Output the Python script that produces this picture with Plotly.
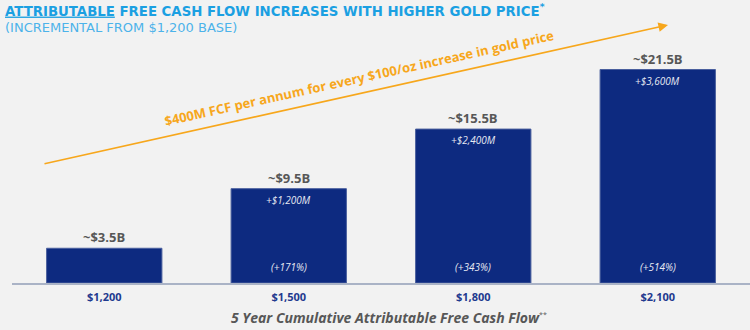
import plotly.graph_objects as go

# ---- data ----
gold_prices = ["$1,200", "$1,500", "$1,800", "$2,100"]
fcf_billions = [3.5, 9.5, 15.5, 21.5]
value_labels = ["~$3.5B", "~$9.5B", "~$15.5B", "~$21.5B"]
incremental_labels = ["", "+$1,200M", "+$2,400M", "+$3,600M"]
pct_labels = ["", "(+171%)", "(+343%)", "(+514%)"]

title_text = "<u>ATTRIBUTABLE</u> FREE CASH FLOW INCREASES WITH HIGHER GOLD PRICE<sup>*</sup>"
subtitle_text = "(INCREMENTAL FROM $1,200 BASE)"
trend_text = "$400M FCF per annum for every $100/oz increase in gold price"
axis_title = "5 Year Cumulative Attributable Free Cash Flow"

W, H = 750, 330
ML, MR, MT, MB = 12, 0, 20, 47
PW, PH = W - ML - MR, H - MT - MB


def px(x):
    return (x - ML) / PW


def py(y):
    return (H - MB - y) / PH


NAVY = "#0d2a80"
GRAY = "#575757"
ORANGE = "#f7a71c"
BLUE = "#1ba0e2"
LIGHTBLUE = "#4cb3ea"

fig = go.Figure()
fig.add_trace(go.Bar(
    x=gold_prices, y=fcf_billions,
    marker=dict(color=NAVY, line=dict(color="#4a5f9e", width=1)),
    width=0.625, hoverinfo="skip",
))

ann = []
for cat, v, lab, inc, pct in zip(gold_prices, fcf_billions, value_labels,
                                 incremental_labels, pct_labels):
    ann.append(dict(x=cat, y=v, xref="x", yref="y", text=lab, showarrow=False,
                    yshift=11, font=dict(family="Open Sans", size=13, color=GRAY,
                                         weight="bold")))
    if inc:
        ann.append(dict(x=cat, y=v, xref="x", yref="y", text="<i>" + inc + "</i>",
                        showarrow=False, yshift=-11,
                        font=dict(family="Open Sans", size=10, color="#e6e9f2")))
    if pct:
        ann.append(dict(x=cat, y=0, xref="x", yref="y", text="<i>" + pct + "</i>",
                        showarrow=False, yshift=16,
                        font=dict(family="Open Sans", size=10, color="#e6e9f2")))

# title & subtitle
ann.append(dict(x=px(3), y=py(10), xref="paper", yref="paper", xanchor="left",
                yanchor="middle", text=title_text, showarrow=False,
                font=dict(family="DejaVu Sans", size=13.3, color=BLUE, weight="bold")))
ann.append(dict(x=px(3), y=py(27), xref="paper", yref="paper", xanchor="left",
                yanchor="middle", text=subtitle_text, showarrow=False,
                font=dict(family="DejaVu Sans", size=13, color=LIGHTBLUE)))

# trend arrow (head at 668,25 ; tail at 43,164 in pixels)
ann.append(dict(x=px(668), y=py(25), ax=43 - 668, ay=164 - 25, xref="paper", yref="paper",
                axref="pixel", ayref="pixel", text="", showarrow=True,
                arrowhead=2, arrowsize=1.2, arrowwidth=1.6, arrowcolor=ORANGE))
ann.append(dict(x=px(359), y=py(78), xref="paper", yref="paper", text="<b>" + trend_text + "</b>",
                showarrow=False, textangle=-12.5, xanchor="center", yanchor="middle",
                font=dict(family="Open Sans", size=13, color=ORANGE)))

# bottom axis title
ann.append(dict(x=px(389), y=py(317), xref="paper", yref="paper",
                text="<i><b>" + axis_title + "</b></i><sup><span style='font-size:7px'>**</span></sup>",
                showarrow=False, yanchor="middle",
                font=dict(family="Open Sans", size=14, color=GRAY)))

fig.update_layout(
    width=W, height=H,
    margin=dict(l=ML, r=MR, t=MT, b=MB),
    paper_bgcolor="#f2f2f2", plot_bgcolor="#f2f2f2",
    showlegend=False, bargap=0.375,
    annotations=ann,
    xaxis=dict(showgrid=False, zeroline=False, showline=True, linecolor="#aab3c6",
               linewidth=1.5, ticks="", fixedrange=True, ticklabelstandoff=3,
               tickfont=dict(family="Open Sans", size=11, color="#1f3a8f", weight="bold")),
    yaxis=dict(range=[0, PH / 9.93], visible=False, fixedrange=True),
)

fig.write_html("out.html")
